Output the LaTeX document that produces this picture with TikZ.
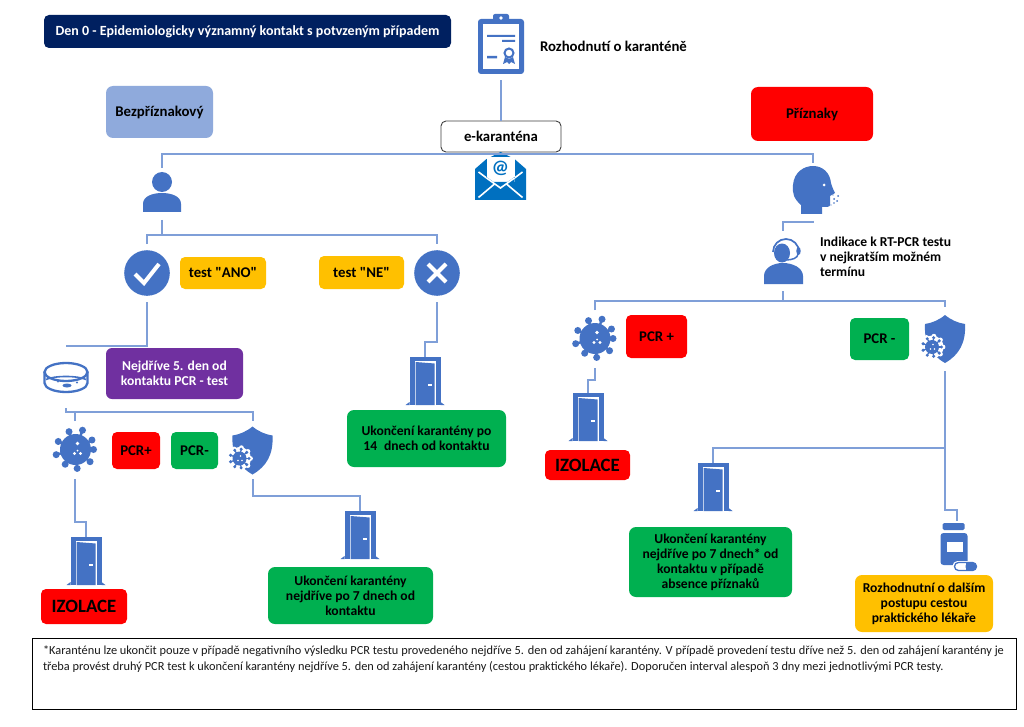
\documentclass[tikz,border=0pt]{standalone}
\usepackage{fontspec}
\setmainfont{Carlito}[Ligatures=TeXOff]
\definecolor{iconblue}{HTML}{4472C4}
\definecolor{mailblue}{HTML}{0070C0}
\definecolor{linkblue}{HTML}{7F9FD8}
\definecolor{navy}{HTML}{002060}
\definecolor{softblue}{HTML}{8FAADC}
\definecolor{ambera}{HTML}{FFC000}
\definecolor{greena}{HTML}{00B050}
\definecolor{purplea}{HTML}{7030A0}
\tikzset{
  conn/.style={draw=linkblue,line width=1.4pt},
  slot/.style={inner sep=0pt,outer sep=0pt,minimum width=#1},
  rbox/.style={rounded corners=5pt,inner sep=0pt,outer sep=0pt,align=center,font=\fontsize{13.6}{15}\selectfont\bfseries,text=black},
  oneline/.style={font=\fontsize{14.8}{17}\selectfont\bfseries},
  plain/.style={inner sep=0pt,outer sep=0pt,align=left,font=\fontsize{13.6}{15}\selectfont\bfseries,text=black},
  virusshape/.pic={
    \fill[iconblue] (0,0) circle (15.5);
    \foreach \a/\r in {0/18,40/19,85/19,125/18,165/20,205/19,250/19,290/20.5,330/19}{
      \draw[iconblue,line width=2.4pt] (0,0) -- (\a:\r);
      \fill[iconblue] (\a:\r) circle (3.5);
    }
    \fill[white] (2,-6) circle (1.8) (-1,4) circle (1.7) (5,4) circle (1.7) (2,1) circle (1.0);
  },
  shieldshape/.pic={
    \fill[iconblue] (0,-24) .. controls (6,-19) and (13,-16) .. (20,-15)
      .. controls (21,4) and (14,16) .. (0,24)
      .. controls (-14,16) and (-21,4) .. (-20,-15)
      .. controls (-13,-16) and (-6,-19) .. (0,-24) -- cycle;
    \fill[white] (-13,8) circle (11.5);
    \foreach \a in {0,40,...,320}{\fill[white] (-13,8)++(\a:11) circle (2.4);}
    \begin{scope}[shift={(-13,8)},scale=.5]
      \fill[iconblue] (0,0) circle (14);
      \foreach \a in {0,40,...,320}{
        \draw[iconblue,line width=1.2pt] (0,0) -- (\a:19);
        \fill[iconblue] (\a:19) circle (3.4);
      }
      \fill[white] (2,-5) circle (1.7) (-3,4) circle (1.7) (5,4) circle (1.7);
    \end{scope}
  },
  doorshape/.pic={
    \fill[iconblue] (-15.5,-24) rectangle (15.5,24);
    \fill[iconblue] (-15.5,21) -- (-19.5,24) -- (-15.5,24) -- cycle (15.5,21) -- (19.5,24) -- (15.5,24) -- cycle;
    \fill[white] (-10.5,-20) rectangle (11,24);
    \fill[iconblue] (-9.5,-19) -- (9.5,-17.5) -- (9.5,24) -- (-9.5,24) -- cycle;
    \fill[white] (2.5,2.5) rectangle (7,4.5);
  },
  personshape/.pic={
    \fill[iconblue] (0,-11) circle (10);
    \fill[iconblue] (-19,19) -- (-19,11) .. controls (-19,3) and (-9,0) .. (0,0)
      .. controls (9,0) and (19,3) .. (19,11) -- (19,19) -- cycle;
  },
  certshape/.pic={
    \fill[iconblue,rounded corners=3pt] (-23,-27) rectangle (23,28);
    \fill[iconblue,rounded corners=2pt] (-8,-32) rectangle (8,-22);
    \fill[white] (0,-28) circle (1.8);
    \fill[white] (-18,-22) rectangle (18,23);
    \fill[iconblue] (-14,-11) rectangle (14,-9) (1,-6) rectangle (14,-4) (-14,10) rectangle (-4,12.5);
    \draw[iconblue,line width=2pt] (8,7) circle (4.5);
    \fill[iconblue] (4,11) -- (2,18) -- (6,16) -- (8,18) -- (8,13) -- cycle;
    \fill[iconblue] (12,11) -- (14,18) -- (10,16) -- (8,18) -- (8,13) -- cycle;
  },
  envelopeshape/.pic={
    \fill[mailblue] (-25.5,-7) -- (-14,-17) -- (0,-24) -- (14,-17) -- (25.5,-7) -- (25.5,24) -- (-25.5,24) -- cycle;
    \fill[white] (-14,-19) rectangle (14,6);
    \fill[mailblue] (0,-24) -- (-3,-20) -- (3,-20) -- cycle;
    \node[inner sep=0pt,text=mailblue,font=\fontsize{19}{19}\selectfont\bfseries] (atsign) at (0,-7.5) {@};
    \draw[white,line width=1.6pt] (-22,-4) -- (-14,2) (22,-4) -- (14,2);
    \fill[mailblue] (-14,1) -- (0,11) -- (14,1) -- (14,6) -- (-14,6) -- cycle;
    \draw[white,line width=1.6pt] (-14,2) -- (0,12) -- (14,2);
    \draw[white,line width=1.6pt] (-22,21.5) -- (-6,8) (22,21.5) -- (6,8);
  },
  faceshape/.pic={
    \fill[iconblue] (-12,27) -- (-12,18) .. controls (-19,12) and (-21,6) .. (-20,-2)
      .. controls (-19,-15) and (-9,-21) .. (0,-21)
      .. controls (10,-21) and (17,-14) .. (18,-4)
      .. controls (19,0) and (21,4) .. (22,6) -- (17,9) -- (17,18)
      .. controls (17,20) and (14,20) .. (9,20) -- (9,27) -- cycle;
    \fill[white] (11,-2) circle (1.5);
    \fill[iconblue] (25,9) circle (1) (21,12) circle (1) (24,14) circle (1) (21,16) circle (.9) (18,18) circle (.6) (20,8) circle (.6);
  },
  agentshape/.pic={
    \fill[iconblue] (-19,21) -- (-19,13) .. controls (-19,5) and (-10,0) .. (0,0)
      .. controls (10,0) and (20,5) .. (20,13) -- (20,21) -- cycle;
    \fill[iconblue] (-1,-10) ellipse (8 and 9.5);
    \draw[iconblue,line width=1.7pt] (-10,-11) arc (180:360:13 and 13);
    \fill[iconblue] (15.5,-12) ellipse (2.2 and 4);
    \draw[iconblue,line width=1.5pt] (15,-9) .. controls (15,-5) and (9,-3) .. (3,-3);
  },
  petrishape/.pic={
    \draw[iconblue,line width=2.3pt] (0,-5.5) ellipse (21.5 and 9);
    \draw[iconblue,line width=2.3pt] (-21.5,-5.5) -- (-21.5,5.5) arc (180:0:21.5 and 9) -- (21.5,-5.5);
    \draw[iconblue,line width=1.6pt] (-20,2) .. controls (-12,-2) and (12,-2) .. (20,2);
    \fill[iconblue] (1,8) ellipse (4.5 and 2) (-8,4) circle (1) (11,5) circle (1.2);
  },
  pillshape/.pic={
    \fill[iconblue,rounded corners=1.5pt] (-13,-22) rectangle (9,-15);
    \fill[iconblue,rounded corners=3pt] (-15,-12) rectangle (12,20);
    \fill[white] (-9,-3) rectangle (7,7);
    \fill[white,rounded corners=5pt] (-3,16) rectangle (23,27);
    \draw[iconblue,line width=1.3pt,rounded corners=4pt] (-1,17.5) rectangle (21,25.5);
    \fill[iconblue,rounded corners=3.5pt] (10,17.5) -- (21,17.5) -- (21,25.5) -- (10,25.5) -- cycle;
    \fill[iconblue] (10,17.5) rectangle (14,25.5);
  },
}
\begin{document}
\begin{tikzpicture}[x=1pt,y=-1pt]
\useasboundingbox (0,0) rectangle (1024,727);
\fill[white] (0,0) rectangle (1024,727);

% titles and labels
\node[rbox,fill=navy,text=white,minimum width=407pt,minimum height=33pt,font=\fontsize{14}{16}\selectfont\bfseries] (title) at (247.5,31.5) {Den 0 - Epidemiologicky významný kontakt s potvzeným případem};
\node[plain,anchor=west,oneline] (decision) at (540,46.5) {Rozhodnutí o karanténě};
\node[rbox,oneline,fill=softblue,minimum width=107pt,minimum height=52pt,rounded corners=7pt] (nosym) at (159.5,112) {Bezpříznakový};
\node[rbox,oneline,fill=red,minimum width=122pt,minimum height=54pt,rounded corners=7pt] (sym) at (812,114) {Příznaky};
\node[rbox,oneline,draw=black!75,fill=white,line width=.9pt,minimum width=120pt,minimum height=31pt] (ekar) at (501,136.5) {e-karanténa};

% icon slots: named nodes that hold the icons, connectors start at their borders
\node[slot=46pt,minimum height=63pt] (cert) at (501,49) {};
\pic at (501,46) {certshape};
\node[slot=51pt,minimum height=48pt] (mail) at (500.5,176) {};
\pic at (500.5,176) {envelopeshape};
\node[slot=38pt,minimum height=52pt] (person) at (162,194) {};
\pic at (162,193) {personshape};
\node[slot=46pt,minimum height=58pt] (yes) at (147,273) {};
\fill[iconblue] (147,273) circle (22.8);
\draw[white,line width=4pt] (135,274) -- (144,283) -- (159,264);
\node[slot=46pt,minimum height=58pt] (no) at (437,273) {};
\fill[iconblue] (437,273) circle (22.8);
\draw[white,line width=4pt] (428,264) -- (446,282) (446,264) -- (428,282);
\node[slot=47pt,minimum height=62pt] (petri) at (66,377) {};
\pic at (66,377.5) {petrishape};
\node[slot=46pt,minimum height=58pt] (virA) at (75,450) {};
\pic at (75.5,449.5) {virusshape};
\node[slot=42pt,minimum height=58pt] (shA) at (253,450) {};
\pic at (252.5,450.5) {shieldshape};
\node[slot=46pt,minimum height=58pt] (virB) at (595,339) {};
\pic at (595,338.5) {virusshape};
\node[slot=42pt,minimum height=64pt] (shB) at (945,339) {};
\pic at (945,339) {shieldshape};
\node[slot=31pt,minimum height=48pt] (doorA) at (86,561) {};
\pic at (86,561) {doorshape};
\node[slot=31pt,minimum height=48pt] (doorB) at (360,535) {};
\pic at (360,535) {doorshape};
\node[slot=31pt,minimum height=48pt] (doorC) at (425,381) {};
\pic at (425,381) {doorshape};
\node[slot=31pt,minimum height=48pt] (doorD) at (588,417) {};
\pic at (588,417) {doorshape};
\node[slot=31pt,minimum height=48pt] (doorE) at (713,487) {};
\pic at (713,487) {doorshape};
\node[slot=44pt,minimum height=58pt] (face) at (813,192) {};
\pic at (813,187) {faceshape};
\node[slot=38pt,minimum height=60pt] (agent) at (783,261) {};
\pic at (783,263) {agentshape};
\node[slot=34pt,minimum height=50pt] (pill) at (957,546) {};
\pic at (955.5,545) {pillshape};

% text boxes
\node[rbox,oneline,fill=ambera,minimum width=86pt,minimum height=32pt] (ano) at (223,273) {test "ANO"};
\node[rbox,oneline,fill=ambera,minimum width=85pt,minimum height=33pt] (ne) at (361.5,272.5) {test "NE"};
\node[rbox,fill=purplea,text=white,minimum width=137pt,minimum height=51pt,rounded corners=6pt] (pcrtest) at (174.5,373.5) {Nejdříve 5. den od\\kontaktu PCR - test};
\node[rbox,oneline,fill=red,minimum width=48pt,minimum height=37pt] (plusA) at (136,450.5) {PCR+};
\node[rbox,oneline,fill=greena,minimum width=47pt,minimum height=37pt] (minusA) at (194.5,450.5) {PCR-};
\node[rbox,fill=red,minimum width=86pt,minimum height=35pt,font=\fontsize{18.8}{20}\selectfont\bfseries] (izoA) at (84,606.5) {IZOLACE};
\node[rbox,fill=greena,minimum width=165pt,minimum height=57pt,rounded corners=7pt] (endA) at (350.5,595.5) {Ukončení karantény\\nejdříve po 7 dnech od\\kontaktu};
\node[rbox,fill=greena,minimum width=159pt,minimum height=57pt,rounded corners=7pt] (endB) at (426.5,438.5) {Ukončení karantény po\\14\enspace dnech od kontaktu};
\node[plain,anchor=north west] (indic) at (820,237) {Indikace k RT-PCR testu\\v nejkratším možném\\termínu};
\node[rbox,oneline,fill=red,minimum width=61pt,minimum height=43pt] (plusB) at (656.5,336.5) {PCR +};
\node[rbox,oneline,fill=greena,minimum width=59pt,minimum height=42pt] (minusB) at (879.5,339) {PCR -};
\node[rbox,fill=red,minimum width=85pt,minimum height=30pt,font=\fontsize{18.8}{20}\selectfont\bfseries] (izoB) at (587.5,465) {IZOLACE};
\node[rbox,fill=greena,minimum width=163pt,minimum height=70pt,rounded corners=7pt] (endC) at (710.5,562) {Ukončení karantény\\nejdříve po 7 dnech* od\\kontaktu v případě\\absence příznaků};
\node[rbox,fill=ambera,minimum width=138pt,minimum height=57pt,rounded corners=7pt] (gp) at (924,603.5) {Rozhodnutní o dalším\\postupu cestou\\praktického lékaře};
\node[draw=black,line width=1pt,inner sep=0pt,outer sep=0pt,minimum width=984pt,minimum height=71pt] (foot) at (524,673.5) {};
\node[inner sep=0pt,outer sep=0pt,anchor=north west,align=left,font=\fontsize{12.35}{15.5}\selectfont,text=black!90] (foottext) at (43,646) {\makebox[961pt][s]{*Karanténu lze ukončit pouze v případě negativního výsledku PCR testu provedeného nejdříve 5. den od zahájení karantény. V případě provedení testu dříve než 5. den od zahájení karantény je}\\třeba provést druhý PCR test k ukončení karantény nejdříve 5. den od zahájení karantény (cestou praktického lékaře). Doporučen interval alespoň 3 dny mezi jednotlivými PCR testy.};

% bus junctions
\coordinate (busTop) at (ekar.south |- 0,154);
\coordinate (busP) at (person.south |- 0,235);
\coordinate (busA) at (petri.south |- 0,412);
\coordinate (busR) at (agent.south |- 0,301);

% connectors
\draw[conn] (cert.south) -- (ekar.north);
\draw[conn] (person.north) -- (person.north |- busTop) -- (face.north |- busTop) -- (face.north);
\draw[conn] (person.south) -- (busP);
\draw[conn] (yes.north) -- (yes.north |- busP) -- (no.north |- busP) -- (no.north);
\draw[conn] (yes.south) |- (petri.north);
\draw[conn] (petri.south) -- (busA) -- (shA.north |- busA) -- (shA.north);
\draw[conn] (virA.north) -- (virA.north |- busA);
\draw[conn] (virA.south) -- (virA.south |- 0,522) -| (doorA.north);
\draw[conn] (shA.south) -- (shA.south |- 0,496) -| (doorB.north);
\draw[conn] (no.south) -- (no.south |- 0,342) -| (doorC.north);
\draw[conn] (face.south) -- (face.south |- 0,222) -| (agent.north);
\draw[conn] (agent.south) -- (busR);
\draw[conn] (virB.north) -- (virB.north |- busR) -- (shB.north |- busR) -- (shB.north);
\draw[conn] (virB.south) -- (virB.south |- 0,380) -| (doorD.north);
\draw[conn] (shB.south) -- (shB.south |- 0,510) -| (pill.north);
\draw[conn] (shB.south |- 0,448) -| (doorE.north);
\end{tikzpicture}
\end{document}
